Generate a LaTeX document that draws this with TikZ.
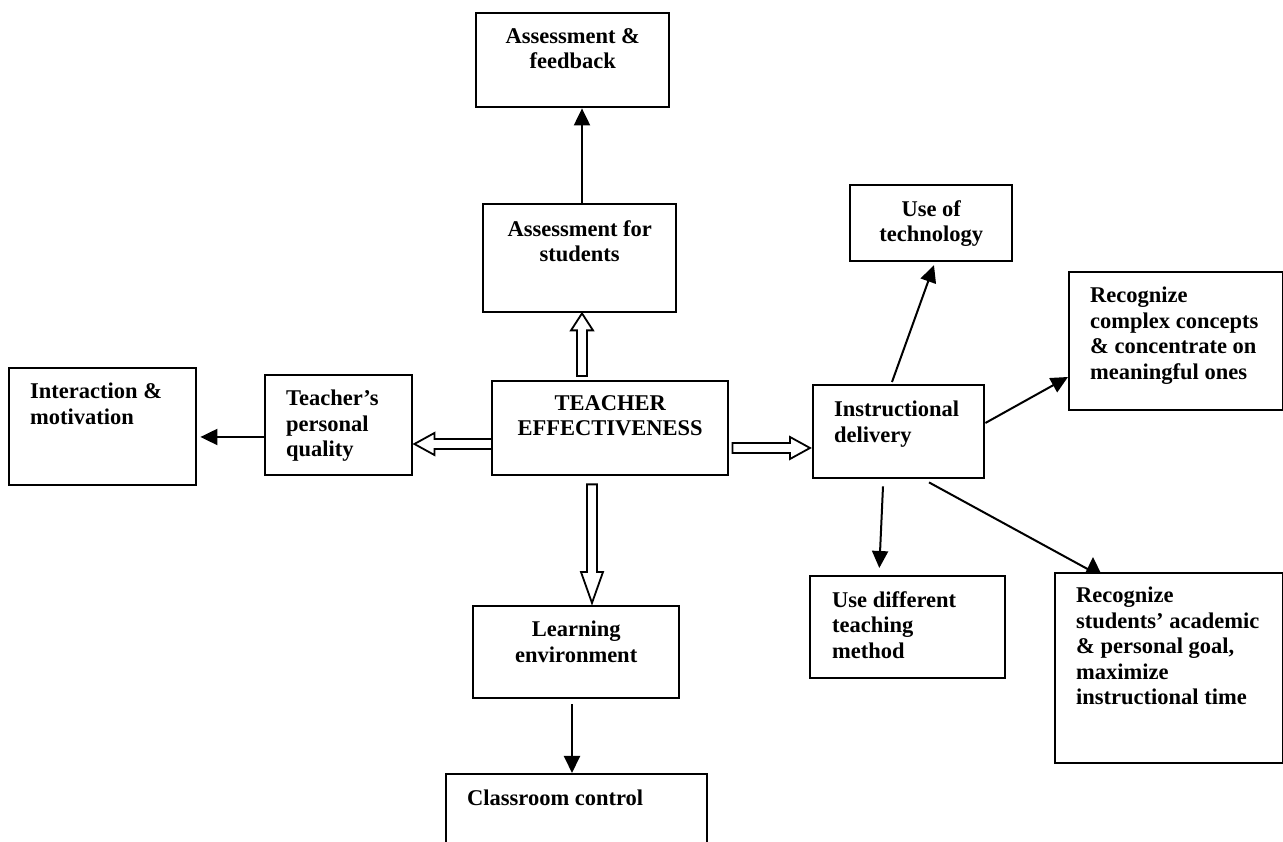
\documentclass[tikz,border=0pt]{standalone}
\usepackage{fontspec}
\setmainfont{Liberation Serif}
\usetikzlibrary{calc,arrows.meta}
\tikzset{
  box/.style={draw, line width=2.4pt, rectangle, inner sep=0pt, anchor=north west},
  txt/.style={font=\bfseries\fontsize{22.5}{25.5}\selectfont, inner sep=0pt, execute at begin node=\strut},
  lt/.style={txt, anchor=north west, align=left},
  ct/.style={txt, anchor=north, align=center},
  conn/.style={line width=2pt, -{Triangle[length=17pt,width=16pt]}},
  blk/.style={draw, line width=1.8pt, fill=white, line join=miter},
}
\newcommand\hollowarrow[3]{%
  \coordinate (ha-h) at ($(#2)!#3!(#1)$);
  \draw[blk] ($(#1)!5pt!90:(#2)$) -- ($(ha-h)!5pt!90:(#2)$) -- ($(ha-h)!11pt!90:(#2)$) -- (#2)
     -- ($(ha-h)!11pt!-90:(#2)$) -- ($(ha-h)!5pt!-90:(#2)$) -- ($(#1)!5pt!-90:(#2)$) -- cycle;}
\begin{document}
\begin{tikzpicture}[x=1pt,y=1pt]
\useasboundingbox (0,0) rectangle (1283,842);
\clip (0,0) rectangle (1283,842);
\fill[white] (0,0) rectangle (1283,842);

% boxes
\node[box, minimum width=193pt, minimum height=94pt]  (af)   at (475,830) {};
\node[box, minimum width=193pt, minimum height=108pt] (asf)  at (482,639) {};
\node[box, minimum width=162pt, minimum height=76pt]  (tech) at (849,658) {};
\node[box, minimum width=214pt, minimum height=138pt] (rcc)  at (1068,571) {};
\node[box, minimum width=187pt, minimum height=117pt] (im)   at (8,475) {};
\node[box, minimum width=147pt, minimum height=100pt] (tpq)  at (264,468) {};
\node[box, minimum width=236pt, minimum height=94pt]  (te)   at (491,462) {};
\node[box, minimum width=171pt, minimum height=93pt]  (id)   at (812,458) {};
\node[box, minimum width=195pt, minimum height=102pt] (udt)  at (809,267) {};
\node[box, minimum width=228pt, minimum height=190pt] (rsa)  at (1054,270) {};
\node[box, minimum width=206pt, minimum height=92pt]  (le)   at (472,237) {};
\node[box, minimum width=261pt, minimum height=100pt] (cc)   at (445,69) {};

% texts
\node[ct] (af-t)   at ($(af.north)+(0,-16)$)  {Assessment \&\\feedback};
\node[ct] (asf-t)  at ($(asf.north)+(0,-17)$) {Assessment for\\students};
\node[ct] (te-t)   at ($(te.north)+(0,-15)$)  {TEACHER\\EFFECTIVENESS};
\node[ct] (tech-t) at ($(tech.north)+(0,-16)$) {Use of\\technology};
\node[ct] (le-t)   at ($(le.north)+(0,-16)$)  {Learning\\environment};
\node[lt] (im-t)   at ($(im.north west)+(22,-16)$)  {Interaction \&\\motivation};
\node[lt] (tpq-t)  at ($(tpq.north west)+(22,-16)$) {Teacher’s\\personal\\quality};
\node[lt] (rcc-t)  at ($(rcc.north west)+(22,-16)$) {Recognize\\complex concepts\\\& concentrate on\\meaningful ones};
\node[lt] (id-t)   at ($(id.north west)+(22,-17)$)  {Instructional\\delivery};
\node[lt] (udt-t)  at ($(udt.north west)+(23,-16)$) {Use different\\teaching\\method};
\node[lt] (rsa-t)  at ($(rsa.north west)+(22,-15)$) {Recognize\\students’ academic\\\& personal goal,\\maximize\\instructional time};
\node[lt] (cc-t)   at ($(cc.north west)+(22,-14)$)  {Classroom control};

% hollow block arrows from the central box
\coordinate (up-s) at ($(te.north -| 582,0)+(0,4)$);
\coordinate (up-e) at (asf.south -| 582,0);
\hollowarrow{up-s}{up-e}{17pt}
\coordinate (dn-s) at ($(te.south -| 592,0)+(0,-8)$);
\coordinate (dn-e) at ($(le.north -| 592,0)+(0,2)$);
\hollowarrow{dn-s}{dn-e}{31pt}
\coordinate (rt-s) at ($(te.east |- 0,394)+(3,0)$);
\coordinate (rt-e) at ($(id.west |- 0,394)+(-2,0)$);
\hollowarrow{rt-s}{rt-e}{20pt}
\coordinate (lf-s) at ($(te.west |- 0,398)+(1,0)$);
\coordinate (lf-e) at ($(tpq.east |- 0,398)+(1,0)$);
\hollowarrow{lf-s}{lf-e}{20pt}

% plain arrows
\draw[conn] (asf.north -| 582,0) -- (af.south -| 582,0);
\draw[conn, shorten >=3pt] (tpq.west |- 0,405) -- (im.east |- 0,405);
\coordinate (id-tech) at ($(id.north -| 892,0)+(0,2)$);
\draw[conn, shorten >=3pt] (id-tech) -- (tech.south -| 935,0);
\draw[conn] (id.east |- 0,419) -- (rcc.west |- 0,465);
\coordinate (id-udt) at ($(id.south -| 883,0)+(0,-7)$);
\draw[conn, shorten >=7pt] (id-udt) -- (udt.north -| 879,0);
\coordinate (id-rsa) at ($(id.south -| 929,0)+(0,-3)$);
\coordinate (rsa-in) at (rsa.north -| 1093,0);
\draw[conn] (id-rsa) -- (rsa-in) -- ++(0,15);
\coordinate (le-cc) at ($(le.south -| 572,0)+(0,-5)$);
\draw[conn] (le-cc) -- (cc.north -| 572,0);
\end{tikzpicture}
\end{document}
